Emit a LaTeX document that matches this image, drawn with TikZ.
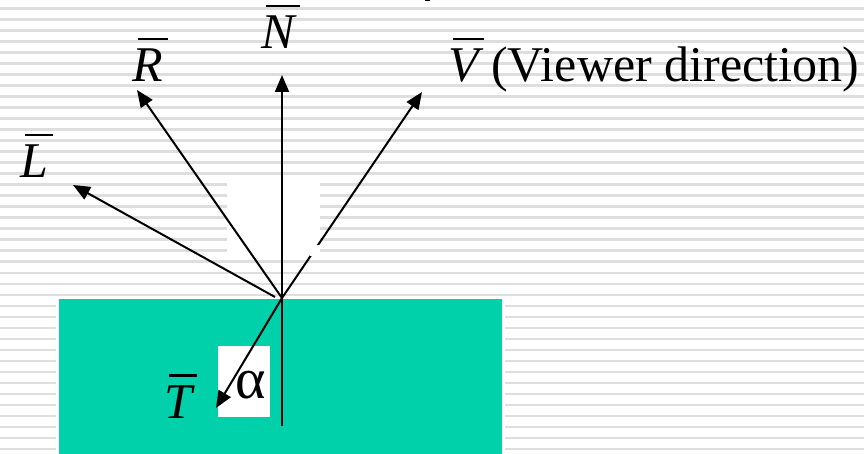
\documentclass[tikz,border=0pt]{standalone}
\usepackage{fontspec}
\setmainfont{Liberation Serif}
\usetikzlibrary{arrows.meta}
\definecolor{sea}{RGB}{0,209,170}
\definecolor{stripe}{RGB}{222,222,222}
\newsavebox{\ovlbox}
\newcommand{\ovl}[1]{\sbox{\ovlbox}{\itshape #1}\rlap{\hspace{0.1em}\rule[0.83em]{\wd\ovlbox}{2.6pt}}\usebox{\ovlbox}}
\tikzset{
  vec/.style={line width=2pt, -{Triangle[length=17pt,width=14pt]}},
  lbl/.style={inner sep=0pt, anchor=base, font=\fontsize{50}{56}\selectfont},
  blank/.style={fill=white, draw=none}
}
\begin{document}
\begin{tikzpicture}[x=1pt,y=-1pt]
\useasboundingbox (0,0) rectangle (864,454);
\fill[white] (0,0) rectangle (864,454);
% background stripes
\foreach \k in {0,...,40}{
  \fill[stripe] (0,{7.5+11*\k}) rectangle (864,{9.9+11*\k});
}
% white patches
\fill[blank] (227,183) rectangle (320,255);
\fill[blank] (56,296) rectangle (505,454);
% surface
\fill[sea] (59,299) rectangle (502,454);
\fill[blank] (218,346) rectangle (270,417);
% points
\coordinate (O) at (282,298);
\coordinate (Lend) at (275,297);
\coordinate (Nbot) at (282,426);
\coordinate (Ntip) at (282,75);
\coordinate (Rtip) at (137,90);
\coordinate (Ltip) at (73,185);
\coordinate (Vtip) at (422,92);
\coordinate (Ttip) at (216,408);
% vectors
\draw[vec] (Nbot) -- (Ntip);
\draw[vec] (O) -- (Rtip);
\draw[vec] (Lend) -- (Ltip);
\draw[vec] (O) -- (Vtip);
\draw[vec] (O) -- (Ttip);
% gap in viewer line
\fill[blank] (310,245) rectangle (320,256.5);
% small cut-off mark at top
\fill[black] (425,0) rectangle (430,1.5);
% labels
\node[lbl] (N) at (278,49) {\ovl{N}};
\node[lbl] (R) at (148,82) {\ovl{R}};
\node[lbl] (L) at (34,178) {\ovl{L}};
\node[lbl, anchor=base west] (V) at (448,82) {\ovl{V} (Viewer direction)};
\node[lbl] (T) at (178,418) {\ovl{T}};
\node[lbl, font=\fontsize{58}{64}\selectfont] (a) at (251,398) {α};
\end{tikzpicture}
\end{document}
